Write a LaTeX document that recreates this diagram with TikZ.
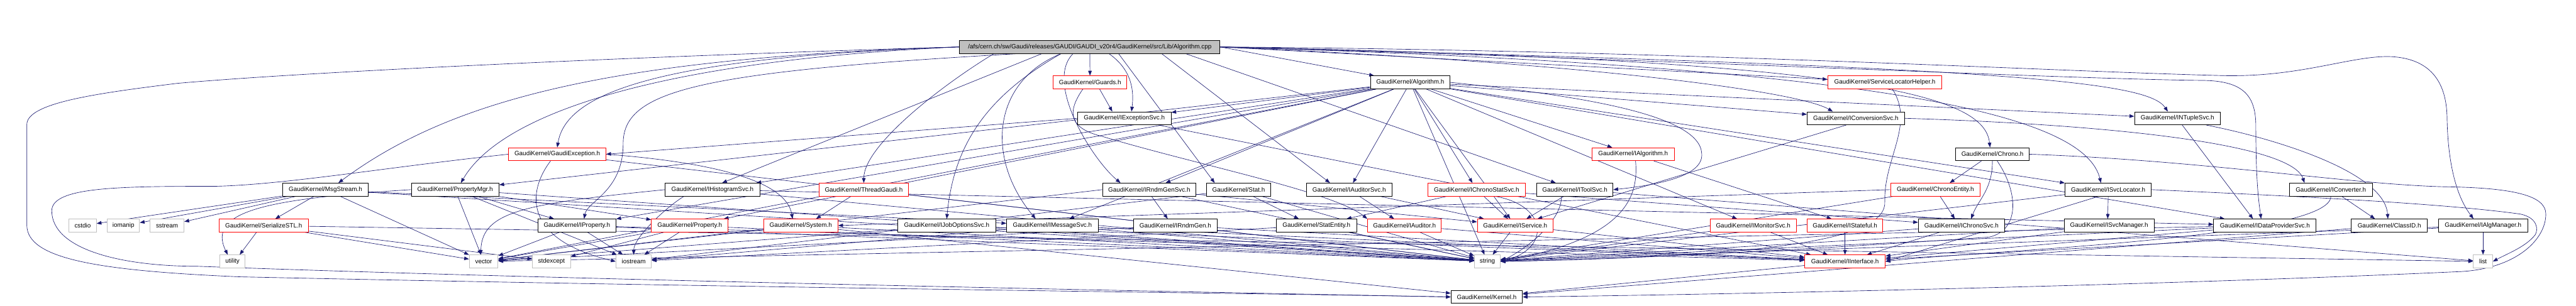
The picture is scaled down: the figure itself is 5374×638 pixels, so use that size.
\documentclass[tikz,border=0pt]{standalone}
\usepackage{fontspec}
\setmainfont{Liberation Sans}
\usetikzlibrary{arrows.meta}
\definecolor{edgec}{HTML}{191970}
\definecolor{leafc}{HTML}{BFBFBF}
\pgfdeclarelayer{bg}
\pgfsetlayers{bg,main}
\tikzset{
  box/.style={rectangle, draw, fill=white, line width=1.2pt, minimum height=27pt, inner xsep=2pt, inner ysep=0pt, font=\fontsize{13}{15}\selectfont},
  nb/.style={box, draw=black},
  nr/.style={box, draw=red},
  ng/.style={box, draw=leafc},
  nroot/.style={box, draw=black, fill=leafc},
  conn/.style={draw=edgec, line width=0.85pt, -{Triangle[length=10pt,width=7.5pt]}},
}
\begin{document}
\begin{tikzpicture}[x=1pt,y=-1pt]
\useasboundingbox (0,0) rectangle (5374,638);
% row 0
\node[nroot, minimum width=543pt] (root) at (2273.5,98) {/afs/cern.ch/sw/Gaudi/releases/GAUDI/GAUDI\_v20r4/GaudiKernel/src/Lib/Algorithm.cpp};
% row 1
\node[nr, minimum width=154pt] (guards) at (2274,172) {GaudiKernel/Guards.h};
\node[nb, minimum width=166pt] (alg) at (2942,172) {GaudiKernel/Algorithm.h};
\node[nr, minimum width=238pt] (slh) at (3932,172) {GaudiKernel/ServiceLocatorHelper.h};
% row 2
\node[nb, minimum width=195pt] (iexc) at (2345.5,247) {GaudiKernel/IExceptionSvc.h};
\node[nb, minimum width=203pt] (iconv) at (3871.5,247) {GaudiKernel/IConversionSvc.h};
\node[nb, minimum width=179pt] (intup) at (4542.5,247) {GaudiKernel/INTupleSvc.h};
% row 3
\node[nr, minimum width=203pt] (gexc) at (1162.5,322) {GaudiKernel/GaudiException.h};
\node[nr, minimum width=172pt] (ialg) at (3407,322) {GaudiKernel/IAlgorithm.h};
\node[nb, minimum width=153pt] (chrono) at (4156.5,322) {GaudiKernel/Chrono.h};
% row 4
\node[nb, minimum width=178pt] (msg) at (679,396) {GaudiKernel/MsgStream.h};
\node[nb, minimum width=183pt] (pmgr) at (949.5,396) {GaudiKernel/PropertyMgr.h};
\node[nb, minimum width=197pt] (ihist) at (1486.5,396) {GaudiKernel/IHistogramSvc.h};
\node[nr, minimum width=186pt] (thread) at (1802,396) {GaudiKernel/ThreadGaudi.h};
\node[nb, minimum width=195pt] (irgs) at (2397.5,396) {GaudiKernel/IRndmGenSvc.h};
\node[nb, minimum width=134pt] (stat) at (2584,396) {GaudiKernel/Stat.h};
\node[nb, minimum width=179pt] (iaudsvc) at (2814.5,396) {GaudiKernel/IAuditorSvc.h};
\node[nr, minimum width=203pt] (icss) at (3080.5,396) {GaudiKernel/IChronoStatSvc.h};
\node[nb, minimum width=159pt] (itool) at (3285.5,396) {GaudiKernel/IToolSvc.h};
\node[nr, minimum width=187pt] (centity) at (4037.5,396) {GaudiKernel/ChronoEntity.h};
\node[nb, minimum width=180pt] (isl) at (4398,396) {GaudiKernel/ISvcLocator.h};
\node[nb, minimum width=173pt] (iconvtr) at (4862.5,396) {GaudiKernel/IConverter.h};
% row 5
\node[ng, minimum width=57pt] (cstdio) at (172.5,471) {cstdio};
\node[ng, minimum width=67pt] (iomanip) at (257.5,471) {iomanip};
\node[ng, minimum width=71pt] (sstream) at (348.5,471) {sstream};
\node[nr, minimum width=186pt] (ser) at (550,471) {GaudiKernel/SerializeSTL.h};
\node[nb, minimum width=163pt] (iprop) at (1203.5,471) {GaudiKernel/IProperty.h};
\node[nr, minimum width=160pt] (prop) at (1439,471) {GaudiKernel/Property.h};
\node[nr, minimum width=155pt] (sys) at (1670.5,471) {GaudiKernel/System.h};
\node[nb, minimum width=204pt] (ijos) at (1975,471) {GaudiKernel/IJobOptionsSvc.h};
\node[nb, minimum width=191pt] (imsg) at (2195.5,471) {GaudiKernel/IMessageSvc.h};
\node[nb, minimum width=174pt] (irg) at (2452,471) {GaudiKernel/IRndmGen.h};
\node[nb, minimum width=167pt] (sent) at (2746.5,471) {GaudiKernel/StatEntity.h};
\node[nr, minimum width=154pt] (iaud) at (2930,471) {GaudiKernel/IAuditor.h};
\node[nr, minimum width=158pt] (isvc) at (3161,471) {GaudiKernel/IService.h};
\node[nr, minimum width=179pt] (imon) at (3657.5,471) {GaudiKernel/IMonitorSvc.h};
\node[nr, minimum width=158pt] (istate) at (3849,471) {GaudiKernel/IStateful.h};
\node[nb, minimum width=180pt] (ichs) at (4092,471) {GaudiKernel/IChronoSvc.h};
\node[nb, minimum width=188pt] (ism) at (4400,471) {GaudiKernel/ISvcManager.h};
\node[nb, minimum width=214pt] (idps) at (4725,471) {GaudiKernel/IDataProviderSvc.h};
\node[nb, minimum width=159pt] (clid) at (4984.5,471) {GaudiKernel/ClassID.h};
\node[nb, minimum width=186pt] (iam) at (5180,471) {GaudiKernel/IAlgManager.h};
% row 6
\node[ng, minimum width=52pt] (utility) at (485,546) {utility};
\node[ng, minimum width=60pt] (vector) at (1009,546) {vector};
\node[ng, minimum width=79pt] (stdexcept) at (1150.5,546) {stdexcept};
\node[ng, minimum width=74pt] (iostream) at (1322,546) {iostream};
\node[ng, minimum width=54pt] (string) at (3103,546) {string};
\node[nr, minimum width=168pt] (iint) at (3849,546) {GaudiKernel/IInterface.h};
\node[ng, minimum width=40pt] (list) at (5180,546) {list};
% row 7
\node[nb, minimum width=149pt] (kernel) at (3101.5,620) {GaudiKernel/Kernel.h};

\begin{pgfonlayer}{bg}
% root
\draw[conn] (root) -- (guards);
\draw[conn] ([xshift=40pt]root.south) .. controls +(50,35) and +(5,-40) .. ([xshift=15pt]iexc.north);
\draw[conn] (root.east) -- (alg);
\draw[conn] (root.east) -- (slh);
\draw[conn] (root.east) .. controls (3300,130) and (3750,190) .. ([xshift=-48pt]iconv.north);
\draw[conn] (root.east) .. controls (4200,140) and (4480,170) .. ([xshift=-20pt]intup.north);
\draw[conn] (root.west) .. controls (1350,120) and (1180,200) .. (gexc.north);
\draw[conn] (root.east) .. controls (3900,125) and (4140,200) .. ([xshift=-5pt]chrono.north);
\draw[conn] (root.west) .. controls (1300,120) and (950,200) .. ([xshift=27pt]msg.north);
\draw[conn] (root.west) .. controls (1400,125) and (1050,230) .. ([xshift=12pt]pmgr.north);
\draw[conn] ([xshift=-100pt]root.south) -- ([xshift=20pt]ihist.north);
\draw[conn] ([xshift=-200pt]root.south) .. controls +(-100,60) and +(0,-80) .. (thread.north);
\draw[conn] ([xshift=-35pt]root.south) .. controls +(-60,60) and +(-60,-50) .. ([xshift=-60pt]irgs.north);
\draw[conn] ([xshift=60pt]root.south) -- ([xshift=-50pt]stat.north);
\draw[conn] ([xshift=150pt]root.south) -- ([xshift=-40pt]iaudsvc.north);
\draw[conn] ([xshift=200pt]root.south) -- ([xshift=-40pt]itool.north);
\draw[conn] (root.east) .. controls (4000,140) and (4350,250) .. ([xshift=-15pt]isl.north);
\draw[conn] ([xshift=-150pt]root.south) .. controls (1450,150) and (1300,190) .. (1300,300) .. controls (1300,400) and (1225,420) .. ([xshift=15pt]iprop.north);
\draw[conn] ([xshift=-60pt]root.south) .. controls (2060,200) and (1990,300) .. (ijos.north);
\draw[conn] ([xshift=-60pt]root.south) .. controls (2070,170) and (2055,330) .. ([xshift=-35pt]imsg.north);
\draw[conn] (root.east) .. controls (3500,125) and (4300,165) .. (4600,168) .. controls (4680,170) and (4705,200) .. (4706,260) .. controls (4706,380) and (4712,420) .. ([xshift=-8pt]idps.north);
\draw[conn] (root.east) .. controls (3500,105) and (4300,150) .. (4645,158) .. controls (4800,160) and (4900,118) .. (4982,118) .. controls (5060,120) and (5105,160) .. (5105,250) .. controls (5108,380) and (5140,430) .. ([xshift=-20pt]iam.north);
\draw[conn] (root.west) .. controls (1500,112) and (700,145) .. (370,174) .. controls (200,195) and (56,215) .. (56,260) -- (56,470) .. controls (56,540) and (200,565) .. (500,578) .. controls (1500,600) and (2600,612) .. (kernel.west);
% guards
\draw[conn] ([xshift=20pt]guards.south) -- ([xshift=-25pt]iexc.north);
\draw[conn] ([xshift=-15pt]guards.south) .. controls (2225,235) and (2230,268) .. (2300,285) .. controls (2500,345) and (2780,400) .. (iaud.north west);
% GaudiException
\draw[conn] (gexc.west) .. controls (800,350) and (600,385) .. (450,389) .. controls (250,389) and (108,390) .. (108,440) .. controls (108,520) and (250,556) .. (412,556) .. controls (1200,585) and (2500,610) .. (kernel.west);
\draw[conn] (gexc.east) .. controls (1500,340) and (1640,380) .. ([xshift=-17pt]sys.north);
\draw[conn] ([xshift=-14pt]gexc.south) .. controls (1100,400) and (1090,500) .. (iostream.west);
\draw[conn] (gexc) -- (string);
% IExceptionSvc
\draw[conn] (iexc.west) -- (gexc.east);
\draw[conn] (iexc) -- (iint);
% Algorithm.h
\draw[conn] (alg) -- (iprop);
\draw[conn] (alg) -- (ialg);
\draw[conn] (alg) -- (isvc);
\draw[conn] (alg) -- (pmgr);
\draw[conn] (alg) -- (isl);
\draw[conn] (alg) -- (imsg);
\draw[conn] (alg) -- (string);
\draw[conn] (alg) -- (vector);
\draw[conn] (alg) -- (idps);
\draw[conn] (alg) -- (ihist);
\draw[conn] (alg) -- (iconv);
\draw[conn] (alg) -- (intup);
\draw[conn] (alg) -- (icss);
\draw[conn] (alg) -- (irgs);
\draw[conn] (alg) -- (iaudsvc);
\draw[conn] (alg.east) .. controls (3300,200) and (3545,240) .. (3550,320) .. controls (3555,365) and (3470,385) .. (itool.east);
\draw[conn] (alg) -- (imon);
\draw[conn] (alg) -- (iexc);
\draw[conn] (alg) -- (prop);
% ServiceLocatorHelper
\draw[conn] ([xshift=16pt]slh.south) .. controls (3995,260) and (3930,330) .. (3932,420) .. controls (3938,500) and (3700,535) .. (string.east);
% IConversionSvc
\draw[conn] (iconv.east) .. controls (4400,260) and (4780,300) .. ([xshift=-55pt]iconvtr.north);
\draw[conn] ([xshift=-20pt]iconv.south) -- (isvc);
% INTupleSvc
\draw[conn] ([xshift=10pt]intup.south) -- ([xshift=-25pt]idps.north);
\draw[conn] ([xshift=60pt]intup.south) .. controls (4750,290) and (4975,360) .. ([xshift=-3pt]clid.north);
% Chrono
\draw[conn] ([xshift=-23pt]chrono.south) -- ([xshift=30pt]centity.north);
\draw[conn] (chrono.south) .. controls +(0,60) and +(15,-40) .. ([xshift=20pt]ichs.north);
\draw[conn] ([xshift=10pt]chrono.south) .. controls (4210,400) and (4215,480) .. (4150,495) .. controls (3800,520) and (3400,540) .. (string.east);
\draw[conn] (chrono.east) .. controls (4600,335) and (4900,385) .. (5100,390) .. controls (5250,392) and (5311,410) .. (5311,447) .. controls (5311,500) and (5250,560) .. (5135,567) .. controls (4500,596) and (3600,615) .. (kernel.east);
% MsgStream
\draw[conn] (msg) -- (cstdio);
\draw[conn] (msg) -- (iomanip);
\draw[conn] (msg) -- (sstream);
\draw[conn] (msg) -- (ser);
\draw[conn] (msg) -- (imsg);
\draw[conn] (msg) -- (string);
\draw[conn] (msg) -- (vector);
% PropertyMgr
\draw[conn] (pmgr) -- (iprop);
\draw[conn] (pmgr) -- (prop);
\draw[conn] (pmgr) -- (iostream);
\draw[conn] (pmgr) -- (vector);
\draw[conn] (pmgr.west) .. controls (560,415) and (430,440) .. ([xshift=-10pt]utility.north);
\draw[conn] (pmgr) -- (string);
% IHistogramSvc
\draw[conn] (ihist) -- (idps);
\draw[conn] ([xshift=-60pt]ihist.south) .. controls +(-40,25) and +(0,-35) .. (iostream.north);
\draw[conn] (ihist) -- (string);
\draw[conn] (ihist.west) .. controls (1100,425) and (1005,440) .. ([xshift=-6pt]vector.north);
% ThreadGaudi
\draw[conn] ([xshift=-27pt]thread.south) -- ([xshift=32pt]sys.north);
\draw[conn] (thread) -- (string);
% IRndmGenSvc
\draw[conn] ([xshift=5pt]irgs.south) -- ([xshift=-16pt]irg.north);
\draw[conn] (irgs) -- (isvc);
\draw[conn] (irgs) -- (string);
\draw[conn] (irgs.west) -- (vector);
% Stat
\draw[conn] ([xshift=30pt]stat.south) -- ([xshift=-37pt]sent.north);
\draw[conn] (stat) -- (string);
\draw[conn] (stat) -- (iostream);
% IAuditorSvc
\draw[conn] (iaudsvc) -- (iaud);
\draw[conn] (iaudsvc) -- (isvc);
% IChronoStatSvc
\draw[conn] (icss) -- (isvc);
\draw[conn] ([xshift=40pt]icss.south) .. controls (3230,430) and (3235,520) .. (string.east);
\draw[conn] (icss) -- (ichs);
\draw[conn] (icss) -- (sent);
% IToolSvc
\draw[conn] (itool) -- (isvc);
\draw[conn] ([xshift=-28pt]itool.south) .. controls +(0,50) and +(60,-30) .. (string.east);
\draw[conn] (itool) -- (list);
% IAlgorithm
\draw[conn] ([xshift=5pt]ialg.south) .. controls (3420,420) and (3380,500) .. (string.east);
\draw[conn] (ialg) -- ([xshift=-28pt]istate.north);
% ChronoEntity
\draw[conn] ([xshift=10pt]centity.south) -- ([xshift=-14pt]ichs.north);
\draw[conn] (centity.west) -- (sys.east);
\draw[conn] (centity) -- (string);
% ISvcLocator
\draw[conn] (isl.south) -- ([xshift=-3pt]ism.north);
\draw[conn] ([xshift=-20pt]isl.south) -- (iint.east);
\draw[conn] (isl.east) .. controls (4800,410) and (5100,425) .. (5258,447) .. controls (5295,455) and (5295,480) .. (5289,490) .. controls (5270,515) and (5230,530) .. (list.east);
\draw[conn] (isl) -- (string);
% IConverter
\draw[conn] ([xshift=23pt]iconvtr.south) -- ([xshift=-30pt]clid.north);
\draw[conn] (iconvtr.south) .. controls +(0,90) and +(150,-20) .. (iint.east);
% SerializeSTL
\draw[conn] ([xshift=-15pt]ser.south) -- ([xshift=15pt]utility.north);
\draw[conn] (ser) -- (vector);
\draw[conn] (ser) -- (list);
\draw[conn] (ser) -- (stdexcept);
% IProperty
\draw[conn] (iprop) -- (iint);
\draw[conn] (iprop) -- (vector);
\draw[conn] (iprop) -- (string);
\draw[conn] (iprop) -- (iostream);
% Property
\draw[conn] (prop) -- (stdexcept);
\draw[conn] (prop) -- (string);
\draw[conn] (prop) -- (vector);
\draw[conn] (prop) -- (iostream);
% System
\draw[conn] (sys) -- (kernel);
\draw[conn] (sys) -- (string);
\draw[conn] (sys) -- (vector);
% row 5 interfaces
\draw[conn] (ijos) -- (iint);
\draw[conn] (ijos) -- (string);
\draw[conn] (ijos) -- (vector);
\draw[conn] (imsg) -- (iint);
\draw[conn] (imsg) -- (string);
\draw[conn] (imsg) -- (iostream);
\draw[conn] (irg) -- (iint);
\draw[conn] (irg) -- (vector);
\draw[conn] (sent) -- (string);
\draw[conn] (sent) -- (iostream);
\draw[conn] (iaud) -- (iint);
\draw[conn] (iaud) -- (string);
\draw[conn] (isvc) -- (iint);
\draw[conn] (isvc) -- (string);
\draw[conn] (imon) -- (iint);
\draw[conn] (imon) -- (string);
\draw[conn] (istate) -- (iint);
\draw[conn] (ichs) -- (iint);
\draw[conn] (ichs) -- (string);
\draw[conn] (ism) -- (iint);
\draw[conn] (ism) -- (string);
\draw[conn] (idps) -- (iint);
\draw[conn] (idps) -- (string);
\draw[conn] (idps) -- (vector);
\draw[conn] (clid) -- (kernel);
\draw[conn] (iam) -- (list);
\draw[conn] (iam) -- (iint);
\draw[conn] (iam) -- (string);
\draw[conn] (iint) -- (kernel);
\end{pgfonlayer}
\end{tikzpicture}
\end{document}
